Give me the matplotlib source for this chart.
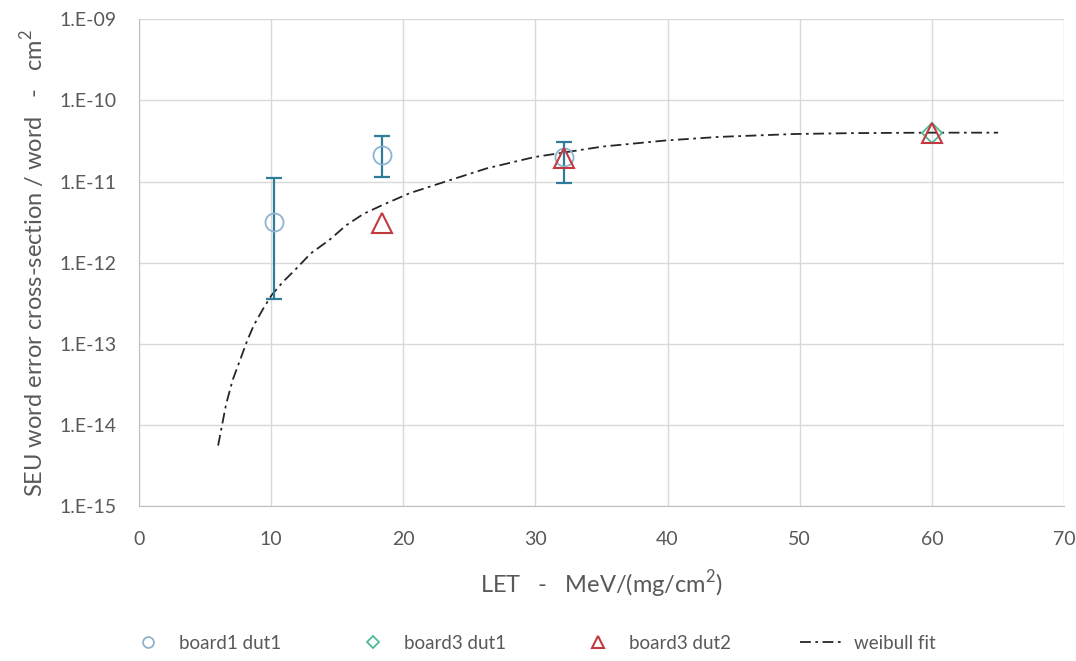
import numpy as np
import matplotlib
matplotlib.use("Agg")
import matplotlib.pyplot as plt
from matplotlib.ticker import FixedLocator, FuncFormatter, NullLocator

# board1 dut1 (circles, with error bars)
b1d1_let = [10.2, 18.4, 32.2]
b1d1_xs = [3.2e-12, 2.15e-11, 2.0e-11]
b1d1_lo = [3.6e-13, 1.15e-11, 9.5e-12]
b1d1_hi = [1.1e-11, 3.6e-11, 3.1e-11]

# board3 dut1 (diamonds)
b3d1_let = [60.0]
b3d1_xs = [4.0e-11]

# board3 dut2 (triangles)
b3d2_let = [18.4, 32.2, 60.0]
b3d2_xs = [3.1e-12, 1.95e-11, 4.0e-11]

# weibull fit
fit_let = [6.0, 6.6, 7.1, 7.7, 8.2, 8.7, 9.4, 10.05, 10.9, 11.8, 13.0, 14.4, 15.7,
           17.0, 18.5, 20.5, 23.2, 26.3, 29.9, 35.1, 39.8, 43.9, 49.6, 54.0, 59.8, 65.0]
fit_xs = [5.6e-15, 1.8e-14, 3.6e-14, 6.6e-14, 1.1e-13, 1.7e-13, 2.7e-13, 4.0e-13, 5.8e-13,
          8.1e-13, 1.3e-12, 1.9e-12, 2.9e-12, 4.0e-12, 5.2e-12, 7.2e-12, 1.0e-11, 1.45e-11,
          2.0e-11, 2.7e-11, 3.2e-11, 3.55e-11, 3.85e-11, 3.95e-11, 4.0e-11, 4.0e-11]

ytick_vals = [1e-15, 1e-14, 1e-13, 1e-12, 1e-11, 1e-10, 1e-9]

c_circle = '#8db3d0'
c_err = '#2f7b9c'
c_diamond = '#4fb894'
c_tri = '#c23a3f'
c_text = '#595959'
c_grid = '#d9d9d9'

plt.rcParams['font.family'] = ['Lato', 'DejaVu Sans']
plt.rcParams['mathtext.fontset'] = 'custom'
plt.rcParams['mathtext.rm'] = 'Lato'

fig = plt.figure(figsize=(10.76, 6.61), dpi=100)
ax = fig.add_axes([0.129, 0.234, 0.860, 0.737])

yerr = [np.array(b1d1_xs) - np.array(b1d1_lo), np.array(b1d1_hi) - np.array(b1d1_xs)]
ax.errorbar(b1d1_let, b1d1_xs, yerr=yerr, fmt='none', ecolor=c_err, elinewidth=1.6,
            capsize=6, capthick=1.6, zorder=3)
ax.plot(b1d1_let, b1d1_xs, 'o', ms=13, mfc='none', mec=c_circle, mew=1.3,
        label='board1 dut1', zorder=4)
ax.plot(b3d1_let, b3d1_xs, 'D', ms=10, mfc='none', mec=c_diamond, mew=1.3,
        label='board3 dut1', zorder=4)
ax.plot(b3d2_let, b3d2_xs, '^', ms=14, mfc='none', mec=c_tri, mew=1.5,
        label='board3 dut2', zorder=5)
ax.plot(fit_let, fit_xs, color='#262626', lw=1.3, linestyle=(0, (6, 2.5, 1.5, 2.5)),
        label='weibull fit', zorder=2)

ax.set_yscale('log')
ax.set_ylim(1e-15, 1e-9)
ax.set_xlim(0, 70)
ax.yaxis.set_major_locator(FixedLocator(ytick_vals))
ax.yaxis.set_minor_locator(NullLocator())
ax.yaxis.set_major_formatter(FuncFormatter(lambda v, p: '1.E%03d' % int(round(np.log10(v)))))
ax.set_xticks(range(0, 71, 10))

ax.grid(True, color=c_grid, lw=1.0)
ax.set_axisbelow(True)
for s in ['top', 'right']:
    ax.spines[s].set_visible(False)
for s in ['left', 'bottom']:
    ax.spines[s].set_color('#bfbfbf')
ax.tick_params(length=0, labelsize=14, labelcolor=c_text)
ax.tick_params(axis='x', pad=18)
ax.tick_params(axis='y', pad=16)

ax.set_xlabel('LET   -   MeV/(mg/cm$^2$)', fontsize=17, color=c_text, labelpad=14)
ax.set_ylabel('SEU word error cross-section / word   -   cm$^2$', fontsize=17,
              color=c_text, labelpad=9)

fig.legend(loc='lower center', bbox_to_anchor=(0.493, -0.012), ncol=4, frameon=False,
           fontsize=13.5, labelcolor=c_text, handlelength=2.4, columnspacing=3.65,
           handletextpad=0.5, markerscale=0.6)

fig.savefig('out.png', dpi=100)
